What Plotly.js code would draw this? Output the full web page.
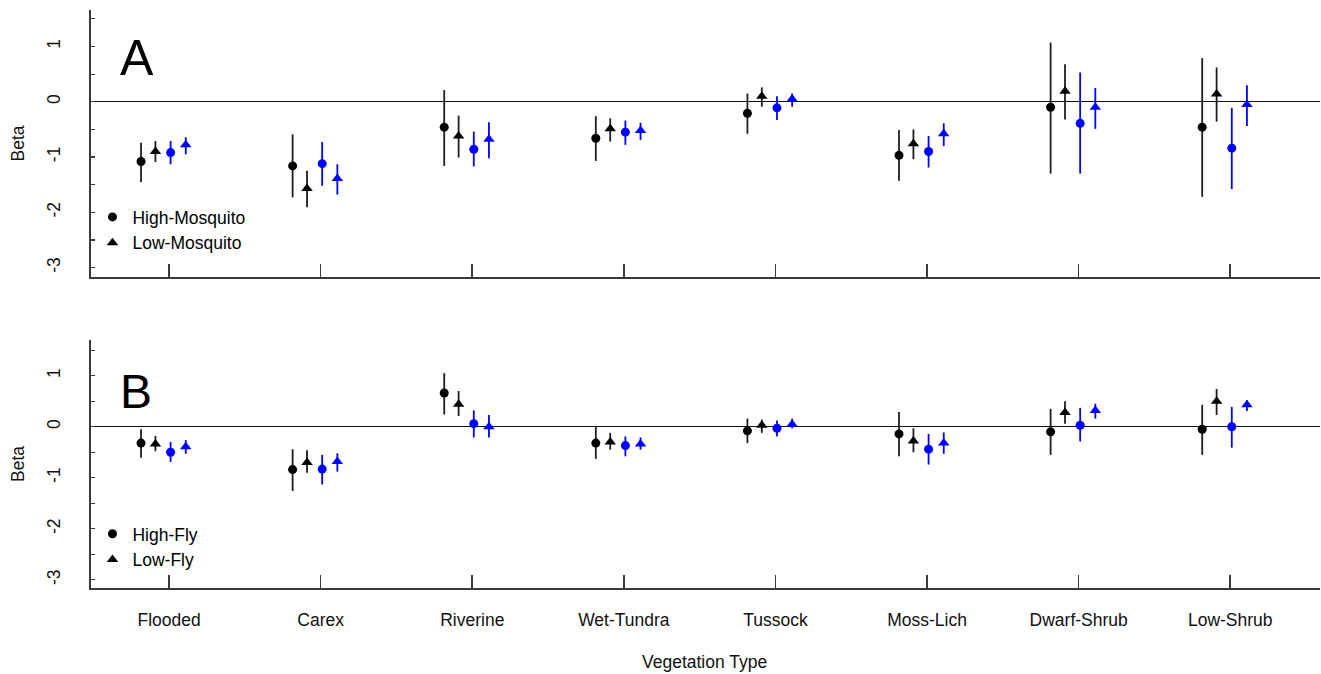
<!DOCTYPE html>
<html>
<head>
<meta charset="utf-8">
<script src="https://cdn.plot.ly/plotly-3.0.1.min.js"></script>
<style>html,body{margin:0;padding:0;background:#fff;}#chart{width:1321px;height:674px;}</style>
</head>
<body>
<div id="chart"></div>
<script>
// ---- Data ----
const categories = ['Flooded','Carex','Riverine','Wet-Tundra','Tussock','Moss-Lich','Dwarf-Shrub','Low-Shrub'];

// Panel A – Mosquito
const aHighBlackEst = [-1.08, -1.16, -0.46, -0.66, -0.21, -0.97, -0.10, -0.46];
const aHighBlackLo  = [-1.45, -1.73, -1.16, -1.07, -0.58, -1.43, -1.30, -1.72];
const aHighBlackHi  = [-0.74, -0.59,  0.21, -0.26,  0.15, -0.51,  1.07,  0.79];

const aLowBlackEst  = [-0.90, -1.57, -0.62, -0.49,  0.10, -0.76,  0.19,  0.14];
const aLowBlackLo   = [-1.09, -1.91, -1.01, -0.72, -0.09, -1.04, -0.32, -0.36];
const aLowBlackHi   = [-0.71, -1.25, -0.25, -0.30,  0.26, -0.50,  0.68,  0.62];

const aHighBlueEst  = [-0.92, -1.12, -0.86, -0.55, -0.11, -0.90, -0.39, -0.84];
const aHighBlueLo   = [-1.13, -1.52, -1.17, -0.78, -0.33, -1.19, -1.30, -1.58];
const aHighBlueHi   = [-0.71, -0.73, -0.54, -0.34,  0.10, -0.62,  0.53, -0.11];

const aLowBlueEst   = [-0.78, -1.39, -0.68, -0.52,  0.05, -0.58, -0.10, -0.05];
const aLowBlueLo    = [-0.95, -1.68, -1.02, -0.69, -0.09, -0.80, -0.49, -0.44];
const aLowBlueHi    = [-0.64, -1.13, -0.37, -0.38,  0.15, -0.39,  0.25,  0.30];

// Panel B – Fly
const bHighBlackEst = [-0.32, -0.84,  0.66, -0.32, -0.08, -0.14, -0.10, -0.05];
const bHighBlackLo  = [-0.61, -1.26,  0.24, -0.63, -0.32, -0.58, -0.55, -0.55];
const bHighBlackHi  = [-0.05, -0.44,  1.05,  0.00,  0.16,  0.29,  0.35,  0.43];

const bLowBlackEst  = [-0.34, -0.70,  0.44, -0.30,  0.03, -0.28,  0.28,  0.50];
const bLowBlackLo   = [-0.48, -0.90,  0.21, -0.45, -0.12, -0.50,  0.06,  0.23];
const bLowBlackHi   = [-0.18, -0.46,  0.70, -0.12,  0.14, -0.03,  0.50,  0.74];

const bHighBlueEst  = [-0.50, -0.83,  0.06, -0.37, -0.03, -0.44,  0.03,  0.00];
const bHighBlueLo   = [-0.69, -1.13, -0.21, -0.58, -0.19, -0.74, -0.29, -0.41];
const bHighBlueHi   = [-0.30, -0.55,  0.32, -0.19,  0.12, -0.14,  0.37,  0.39];

const bLowBlueEst   = [-0.39, -0.68,  0.00, -0.34,  0.05, -0.32,  0.32,  0.43];
const bLowBlueLo    = [-0.53, -0.88, -0.21, -0.45, -0.03, -0.53,  0.16,  0.31];
const bLowBlueHi    = [-0.26, -0.52,  0.23, -0.21,  0.16, -0.11,  0.45,  0.52];

const yTickVals = [-3, -2.5, -2, -1.5, -1, -0.5, 0, 0.5, 1, 1.5];
const yTickText = ['-3', '', '-2', '', '-1', '', '0', '', '1', ''];

// ---- Build traces ----
const FONT = 'Liberation Sans, Arial, Helvetica, sans-serif';
const BLACK = '#000000', BLUE = '#0000ff';
const dodge = [-0.185, -0.09, 0.01, 0.11];

function series(est, lo, hi, slot, color, symbol, xa, ya, name, legend) {
  return {
    type: 'scatter', mode: 'markers',
    x: categories.map((c, i) => i + dodge[slot]),
    y: est,
    xaxis: xa, yaxis: ya,
    name: name || '',
    showlegend: !!legend,
    legend: legend || 'legend',
    marker: {color: color, size: symbol === 'circle' ? 9 : 10, symbol: symbol, line: {width: 0}},
    error_y: {
      type: 'data', symmetric: false,
      array: hi.map((h, i) => h - est[i]),
      arrayminus: lo.map((l, i) => est[i] - l),
      width: 0, thickness: 1.8,
      color: color === BLACK ? '#1e1e1e' : BLUE
    },
    hoverinfo: 'skip'
  };
}

const traces = [
  series(aHighBlackEst, aHighBlackLo, aHighBlackHi, 0, BLACK, 'circle', 'x', 'y', 'High-Mosquito', 'legend'),
  series(aLowBlackEst, aLowBlackLo, aLowBlackHi, 1, BLACK, 'triangle-up', 'x', 'y', 'Low-Mosquito', 'legend'),
  series(aHighBlueEst, aHighBlueLo, aHighBlueHi, 2, BLUE, 'circle', 'x', 'y'),
  series(aLowBlueEst, aLowBlueLo, aLowBlueHi, 3, BLUE, 'triangle-up', 'x', 'y'),
  series(bHighBlackEst, bHighBlackLo, bHighBlackHi, 0, BLACK, 'circle', 'x2', 'y2', 'High-Fly', 'legend2'),
  series(bLowBlackEst, bLowBlackLo, bLowBlackHi, 1, BLACK, 'triangle-up', 'x2', 'y2', 'Low-Fly', 'legend2'),
  series(bHighBlueEst, bHighBlueLo, bHighBlueHi, 2, BLUE, 'circle', 'x2', 'y2'),
  series(bLowBlueEst, bLowBlueLo, bLowBlueHi, 3, BLUE, 'triangle-up', 'x2', 'y2')
];

const axisLine = '#3a3a3a';
const xCommon = {
  range: [-0.515, 7.592],
  tickvals: categories.map((c, i) => i),
  ticktext: categories,
  ticks: 'inside', ticklen: 13, tickwidth: 1.6, tickcolor: axisLine,
  showline: true, linecolor: axisLine, linewidth: 1.8,
  showgrid: false, zeroline: false,
  tickfont: {family: FONT, size: 17.5, color: '#111'},
  fixedrange: true
};
const yCommon = {
  tickvals: yTickVals, ticktext: yTickText,
  tickangle: -90,
  ticks: 'inside', ticklen: 4, tickwidth: 1.2, tickcolor: axisLine,
  showline: true, linecolor: axisLine, linewidth: 1.8,
  showgrid: false,
  zeroline: true, zerolinecolor: '#111', zerolinewidth: 1.4,
  tickfont: {family: FONT, size: 17.5, color: '#111'},
  ticklabelstandoff: 22,
  fixedrange: true
};

const layout = {
  width: 1321, height: 674,
  margin: {l: 91, r: 1, t: 10, b: 86},
  paper_bgcolor: '#fff', plot_bgcolor: '#fff',
  font: {family: FONT, size: 17.5, color: '#000'},
  xaxis: Object.assign({}, xCommon, {anchor: 'y', domain: [0, 1], showticklabels: false}),
  xaxis2: Object.assign({}, xCommon, {anchor: 'y2', domain: [0, 1], showticklabels: true, ticklabelstandoff: 15}),
  yaxis: Object.assign({}, yCommon, {anchor: 'x', domain: [0.5381, 1], range: [-3.17, 1.66]}),
  yaxis2: Object.assign({}, yCommon, {anchor: 'x2', domain: [0, 0.4291], range: [-3.16, 1.70]}),
  legend: {x: 0.0012, y: 0.673, xanchor: 'left', yanchor: 'top', bgcolor: 'rgba(0,0,0,0)',
           font: {family: FONT, size: 17.5, color: '#000'}, itemwidth: 30, tracegroupgap: 0},
  legend2: {x: 0.0012, y: 0.1247, xanchor: 'left', yanchor: 'top', bgcolor: 'rgba(0,0,0,0)',
           font: {family: FONT, size: 17.5, color: '#000'}, itemwidth: 30, tracegroupgap: 0},
  annotations: [
    {text: 'A', xref: 'paper', yref: 'y domain', x: 0.0375, y: 0.822, xanchor: 'center', yanchor: 'middle',
     showarrow: false, font: {family: FONT, size: 50, color: '#000'}},
    {text: 'B', xref: 'paper', yref: 'y2 domain', x: 0.0370, y: 0.792, xanchor: 'center', yanchor: 'middle',
     showarrow: false, font: {family: FONT, size: 48, color: '#000'}},
    {text: 'Beta', xref: 'paper', yref: 'y domain', x: -0.0594, y: 0.5, xanchor: 'center', yanchor: 'middle',
     textangle: -90, showarrow: false, font: {family: FONT, size: 17.5, color: '#111'}},
    {text: 'Beta', xref: 'paper', yref: 'y2 domain', x: -0.0594, y: 0.5, xanchor: 'center', yanchor: 'middle',
     textangle: -90, showarrow: false, font: {family: FONT, size: 17.5, color: '#111'}},
    {text: 'Vegetation Type', xref: 'paper', yref: 'paper', x: 0.4988, y: -0.128, xanchor: 'center', yanchor: 'middle',
     showarrow: false, font: {family: FONT, size: 17.5, color: '#111'}}
  ]
};

Plotly.newPlot('chart', traces, layout, {displayModeBar: false, staticPlot: true});
</script>
</body>
</html>
